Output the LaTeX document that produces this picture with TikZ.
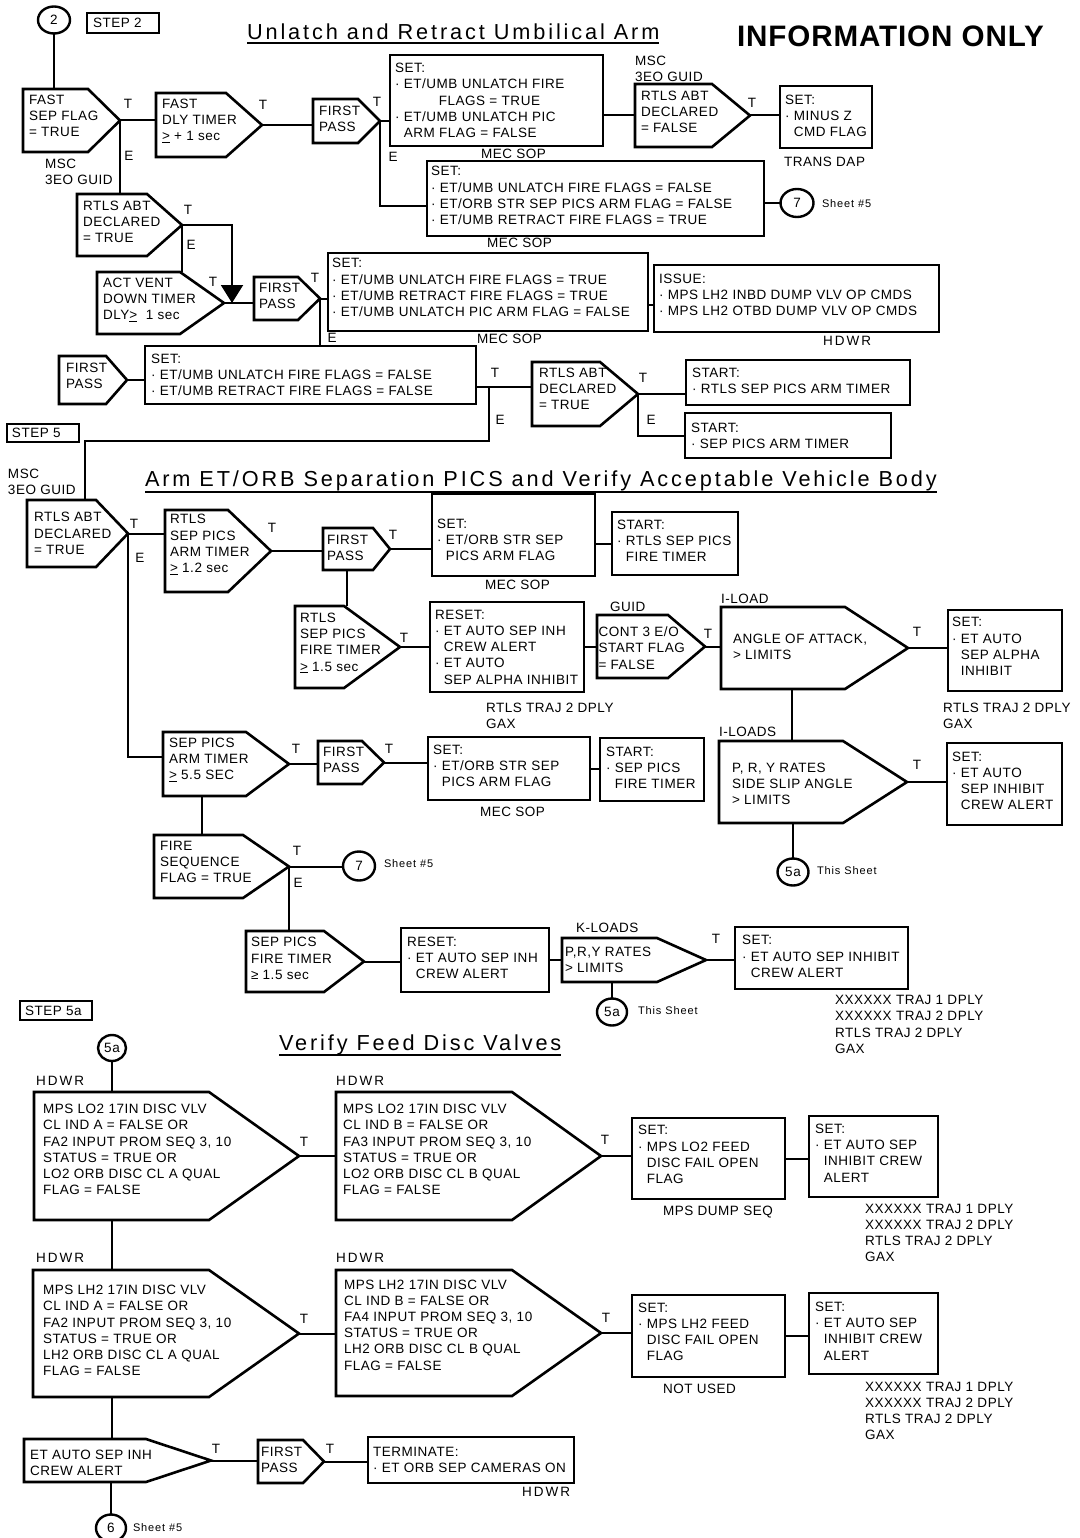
\documentclass[tikz,border=0pt]{standalone}
\usepackage{fontspec}
\setmainfont{Liberation Sans}
\usetikzlibrary{shapes.geometric,arrows.meta}
\newfontfamily\mainf{Liberation Sans}[LetterSpace=4]
\newfontfamily\titlef{Liberation Sans}[LetterSpace=13.3]
\newfontfamily\infof{Liberation Sans}[LetterSpace=3]
\newfontfamily\smallf{Liberation Sans}[LetterSpace=8]
\newfontfamily\hdwrf{Liberation Sans}[LetterSpace=15]
\newcommand\fmain{\mainf\fontsize{13.5}{16.2}\selectfont}
\newcommand\ftitle{\titlef\fontsize{21.7}{25}\selectfont}
\newcommand\finfo{\infof\bfseries\fontsize{29.6}{33}\selectfont}
\newcommand\fsmall{\smallf\fontsize{11}{13}\selectfont}
\newcommand\fhdwr{\hdwrf\fontsize{13.5}{16}\selectfont}
\newcommand\ind{\hphantom{·\ }}
\tikzset{
  every node/.style={inner sep=0pt, outer sep=0pt, font=\fmain},
  frm/.style={line width=2.6pt, line join=miter},
  ln/.style={line width=2pt},
  bxn/.style={draw, line width=2.6pt, anchor=north west},
  pnn/.style={anchor=north west},
  txt/.style={anchor=west, align=left},
  lab/.style={anchor=west},
  cir/.style={draw, ellipse, line width=2.4pt},
}
% box: name l t r b pad yshift text
\newcommand\bx[8]{%
  \pgfmathsetmacro\bW{#4-#2}\pgfmathsetmacro\bH{#5-#3}%
  \node[bxn, minimum width=\bW pt, minimum height=\bH pt] (#1) at (#2,#3) {};
  \node[txt, yshift=#7pt] (#1-t) at ([xshift=#6pt]#1.west) {#8};}
% pentagon: name l t r b shoulder pad yshift text
\newcommand\pent[9]{%
  \pgfmathsetmacro\bW{#4-#2}\pgfmathsetmacro\bH{#5-#3}%
  \node[pnn, minimum width=\bW pt, minimum height=\bH pt] (#1) at (#2,#3) {};
  \draw[frm] (#2,#3) -- (#6,#3) -- (#1.east) -- (#6,#5) -- (#2,#5) -- cycle;
  \node[txt, yshift=#8pt] (#1-t) at ([xshift=#7pt]#1.west) {#9};}
\begin{document}
\begin{tikzpicture}[x=1pt,y=-1pt]
\useasboundingbox (0,0) rectangle (1079,1538);
\fill[white] (0,0) rectangle (1079,1538);

% ---------- header ----------
\node[cir, minimum width=32pt, minimum height=27pt] (c2) at (54,20) {2};
\bx{step2}{87}{13}{159}{33}{6}{0}{STEP 2}
\node[anchor=base west, font=\ftitle] (t1) at (247,40) {Unlatch and Retract Umbilical Arm};
\draw[line width=1.3pt] ([yshift=-3pt]t1.base west) -- ([yshift=-3pt]t1.base east);
\node[anchor=base west, font=\finfo] (info) at (737,47) {INFORMATION ONLY};

% ---------- step 2 ----------
\pent{fs}{23}{89}{120}{152}{88}{6}{4.5}{FAST\\SEP FLAG\\= TRUE}
\node[txt] (l1) at (45,172) {MSC\\3EO GUID};
\pent{fd}{156}{93}{262}{157}{226}{6}{4}{FAST\\DLY TIMER\\\underline{>} + 1 sec}
\pent{fp1}{313}{99}{380}{143}{358}{6}{2.5}{FIRST\\PASS}
\bx{set1}{390}{55}{603}{146}{5}{0}{SET:\\· ET/UMB UNLATCH FIRE\\\ind\hspace*{35pt}FLAGS = TRUE\\· ET/UMB UNLATCH PIC\\\ind ARM FLAG = FALSE}
\node[lab] (l2) at (481,154) {MEC SOP};
\pent{rf}{635}{84}{750}{147}{712}{6}{3.5}{RTLS ABT\\DECLARED\\= FALSE}
\node[txt] (l3) at (635,69) {MSC\\3EO GUID};
\bx{mz}{780}{86}{872}{148}{5}{1}{SET:\\· MINUS Z\\\ind CMD FLAG}
\node[lab] (l4) at (784,162) {TRANS DAP};
\bx{set2}{427}{161}{764}{236}{4}{3}{SET:\\· ET/UMB UNLATCH FIRE FLAGS = FALSE\\· ET/ORB STR SEP PICS ARM FLAG = FALSE\\· ET/UMB RETRACT FIRE FLAGS = TRUE}
\node[lab] (l5) at (487,243) {MEC SOP};
\node[cir, minimum width=33pt, minimum height=28pt] (c7a) at (797,203) {7};
\node[lab, font=\fsmall] (l6) at (822,204) {Sheet \#5};

\pent{ra1}{77}{194}{182}{256}{147}{6}{3}{RTLS ABT\\DECLARED\\= TRUE}
\pent{av}{97}{272}{224}{334}{180}{6}{3.5}{ACT VENT\\DOWN TIMER\\DLY\underline{>}\ \ 1 sec}
\coordinate (ja) at ([xshift=8pt]av.east);
\pent{fp2}{254}{277}{320}{320}{298}{5}{2.5}{FIRST\\PASS}
\bx{set3}{328}{253}{648}{331}{4}{4.5}{SET:\\· ET/UMB UNLATCH FIRE FLAGS = TRUE\\· ET/UMB RETRACT FIRE FLAGS = TRUE\\· ET/UMB UNLATCH PIC ARM FLAG = FALSE}
\node[lab] (l7) at (477,339) {MEC SOP};
\bx{iss}{654}{265}{939}{332}{5}{3.5}{ISSUE:\\· MPS LH2 INBD DUMP VLV OP CMDS\\· MPS LH2 OTBD DUMP VLV OP CMDS}
\node[lab, font=\fhdwr] (l8) at (823,341) {HDWR};

\pent{fp3}{59}{356}{127}{404}{106}{7}{4}{FIRST\\PASS}
\bx{set4}{145}{346}{476}{404}{6}{0}{SET:\\· ET/UMB UNLATCH FIRE FLAGS = FALSE\\· ET/UMB RETRACT FIRE FLAGS = FALSE}
\coordinate (jb) at ([xshift=13pt,yshift=-12pt]set4.east);
\pent{ra2}{532}{362}{638}{426}{600}{7}{5}{RTLS ABT\\DECLARED\\= TRUE}
\bx{st1}{686}{360}{910}{405}{6}{1.5}{START:\\· RTLS SEP PICS ARM TIMER}
\bx{st2}{685}{413}{891}{458}{6}{0}{START:\\· SEP PICS ARM TIMER}

% ---------- step 5 ----------
\bx{step5}{7}{424}{79}{442}{5}{0}{STEP 5}
\node[txt] (l9) at (8,482) {MSC\\3EO GUID};
\node[anchor=base west, font=\ftitle] (t2) at (145,486) {Arm ET/ORB Separation PICS and Verify Acceptable Vehicle Body};
\draw[line width=1.3pt] ([yshift=-6pt]t2.base west) -- ([yshift=-6pt]t2.base east);

\pent{ra3}{27}{500}{128}{567}{96}{7}{0}{RTLS ABT\\DECLARED\\= TRUE}
\pent{rt1}{165}{510}{271}{592}{228}{5}{6.5}{RTLS\\SEP PICS\\ARM TIMER\\\underline{>} 1.2 sec}
\pent{fp4}{323}{528}{390}{570}{373}{4}{1}{FIRST\\PASS}
\bx{set5}{432}{494}{595}{576}{5}{-5}{SET:\\· ET/ORB STR SEP\\\ind PICS ARM FLAG}
\node[lab] (l10) at (485,585) {MEC SOP};
\bx{st3}{612}{512}{738}{575}{5}{2.5}{START:\\· RTLS SEP PICS\\\ind FIRE TIMER}
\pent{rf2}{295}{606}{400}{688}{344}{5}{4}{RTLS\\SEP PICS\\FIRE TIMER\\\underline{>} 1.5 sec}
\bx{rs1}{430}{602}{584}{692}{5}{0}{RESET:\\· ET AUTO SEP INH\\\ind CREW ALERT\\· ET AUTO\\\ind SEP ALPHA INHIBIT}
\node[txt] (l11) at (486,716) {RTLS TRAJ 2 DPLY\\GAX};
\node[lab] (l12) at (610,607) {GUID};
\pent{ct}{597}{615}{705}{678}{668}{1.5}{-1.5}{CONT 3 E/O\\START FLAG\\= FALSE}
\node[lab] (l13) at (721,599) {I-LOAD};
\pent{aa}{721}{607}{908}{689}{845}{12}{1.5}{ANGLE OF ATTACK,\\> LIMITS}
\bx{s6}{948}{610}{1062}{691}{4}{4}{SET:\\· ET AUTO\\\ind SEP ALPHA\\\ind INHIBIT}
\node[txt] (l14) at (943,716) {RTLS TRAJ 2 DPLY\\GAX};
\node[lab] (l15) at (719,732) {I-LOADS};
\pent{pr}{719}{741}{907}{823}{843}{13}{-2}{P, R, Y RATES\\SIDE SLIP ANGLE\\> LIMITS}
\bx{s7}{947}{743}{1062}{825}{5}{3}{SET:\\· ET AUTO\\\ind SEP INHIBIT\\\ind CREW ALERT}
\node[cir, minimum width=31pt, minimum height=27pt] (c5a1) at (793,872) {5a};
\node[lab, font=\fsmall] (l16) at (817,871) {This Sheet};

\pent{sp1}{163}{732}{289}{796}{246}{6}{4}{SEP PICS\\ARM TIMER\\\underline{>} 5.5 SEC}
\pent{fp5}{318}{741}{384}{784}{362}{5}{2.5}{FIRST\\PASS}
\bx{s8}{428}{737}{590}{800}{5}{2.5}{SET:\\· ET/ORB STR SEP\\\ind PICS ARM FLAG}
\node[lab] (l17) at (480,812) {MEC SOP};
\bx{st4}{600}{738}{704}{801}{6}{1.5}{START:\\· SEP PICS\\\ind FIRE TIMER}
\pent{fsq}{154}{835}{289}{898}{243}{6}{4.5}{FIRE\\SEQUENCE\\FLAG = TRUE}
\node[cir, minimum width=32pt, minimum height=29pt] (c7b) at (359,866) {7};
\node[lab, font=\fsmall] (l18) at (384,864) {Sheet \#5};
\pent{sf}{246}{931}{364}{992}{324}{5}{3}{SEP PICS\\FIRE TIMER\\≥ 1.5 sec}
\bx{rs2}{401}{928}{549}{992}{6}{2}{RESET:\\· ET AUTO SEP INH\\\ind CREW ALERT}
\node[lab] (l19) at (576,928) {K-LOADS};
\pent{kp}{562}{938}{706}{982}{657}{3}{0}{P,R,Y RATES\\> LIMITS}
\bx{s9}{735}{927}{908}{989}{7}{1.5}{SET:\\· ET AUTO SEP INHIBIT\\\ind CREW ALERT}
\node[txt] (l20) at (835,1024.5) {XXXXXX TRAJ 1 DPLY\\XXXXXX TRAJ 2 DPLY\\RTLS TRAJ 2 DPLY\\GAX};
\node[cir, minimum width=30pt, minimum height=27pt] (c5a2) at (612,1012) {5a};
\node[lab, font=\fsmall] (l21) at (638,1011) {This Sheet};

% ---------- step 5a ----------
\bx{step5a}{20}{1001}{92}{1020}{5}{0}{STEP 5a}
\node[anchor=base west, font=\ftitle] (t3) at (279,1050) {Verify Feed Disc Valves};
\draw[line width=1.3pt] ([yshift=-5pt]t3.base west) -- ([yshift=-5pt]t3.base east);
\node[cir, minimum width=28pt, minimum height=26pt] (c5a3) at (112,1048) {5a};
\node[lab, font=\fhdwr] (l22) at (36,1081) {HDWR};
\node[lab, font=\fhdwr] (l23) at (336,1081) {HDWR};
\pent{lo2a}{34}{1092}{299}{1220}{209}{9}{6.5}{MPS LO2 17IN DISC VLV\\CL IND A = FALSE OR\\FA2 INPUT PROM SEQ 3, 10\\STATUS = TRUE OR\\LO2 ORB DISC CL A QUAL\\FLAG = FALSE}
\pent{lo2b}{336}{1092}{601}{1220}{512}{7}{6.5}{MPS LO2 17IN DISC VLV\\CL IND B = FALSE OR\\FA3 INPUT PROM SEQ 3, 10\\STATUS = TRUE OR\\LO2 ORB DISC CL B QUAL\\FLAG = FALSE}
\bx{sl}{632}{1118}{785}{1199}{6}{4}{SET:\\· MPS LO2 FEED\\\ind DISC FAIL OPEN\\\ind FLAG}
\node[lab] (l24) at (663,1212) {MPS DUMP SEQ};
\bx{sa1}{809}{1116}{938}{1197}{6}{3.5}{SET:\\· ET AUTO SEP\\\ind INHIBIT CREW\\\ind ALERT}
\node[txt] (l25) at (865,1233) {XXXXXX TRAJ 1 DPLY\\XXXXXX TRAJ 2 DPLY\\RTLS TRAJ 2 DPLY\\GAX};
\node[lab, font=\fhdwr] (l26) at (36,1258) {HDWR};
\node[lab, font=\fhdwr] (l27) at (336,1258) {HDWR};
\pent{lh2a}{33}{1270}{299}{1397}{209}{10}{3}{MPS LH2 17IN DISC VLV\\CL IND A = FALSE OR\\FA2 INPUT PROM SEQ 3, 10\\STATUS = TRUE OR\\LH2 ORB DISC CL A QUAL\\FLAG = FALSE}
\pent{lh2b}{336}{1270}{601}{1396}{512}{8}{8}{MPS LH2 17IN DISC VLV\\CL IND B = FALSE OR\\FA4 INPUT PROM SEQ 3, 10\\STATUS = TRUE OR\\LH2 ORB DISC CL B QUAL\\FLAG = FALSE}
\bx{sl2}{632}{1295}{785}{1377}{6}{4}{SET:\\· MPS LH2 FEED\\\ind DISC FAIL OPEN\\\ind FLAG}
\node[lab] (l28) at (663,1389) {NOT USED};
\bx{sa2}{809}{1293}{938}{1374}{6}{2.5}{SET:\\· ET AUTO SEP\\\ind INHIBIT CREW\\\ind ALERT}
\node[txt] (l29) at (865,1411) {XXXXXX TRAJ 1 DPLY\\XXXXXX TRAJ 2 DPLY\\RTLS TRAJ 2 DPLY\\GAX};
\pent{ea}{24}{1439}{211}{1482}{146}{6}{-2.5}{ET AUTO SEP INH\\CREW ALERT}
\pent{fp6}{258}{1440}{324}{1483}{303}{3}{2}{FIRST\\PASS}
\bx{term}{368}{1437}{574}{1483}{5}{0}{TERMINATE:\\· ET ORB SEP CAMERAS ON}
\node[lab, font=\fhdwr] (l30) at (522,1492) {HDWR};
\node[cir, minimum width=30pt, minimum height=27pt] (c6) at (111,1528) {6};
\node[lab, font=\fsmall] (l31) at (133,1528) {Sheet \#5};

% ---------- T / E labels ----------
\node (T1) at (128,104) {T};
\node (E1) at (129,156) {E};
\node (T2) at (263,105) {T};
\node (T3) at (377,102) {T};
\node (E2) at (393,157) {E};
\node (T4) at (752,103) {T};
\node (T5) at (188,210) {T};
\node (E3) at (191,245) {E};
\node (T6) at (213,282) {T};
\node (T7) at (315,278) {T};
\node (E4) at (332,338) {E};
\node (T8) at (495,373) {T};
\node (E5) at (500,420) {E};
\node (T9) at (643,378) {T};
\node (E6) at (651,420) {E};
\node (T10) at (134,524) {T};
\node (E7) at (140,558) {E};
\node (T11) at (272,528) {T};
\node (T12) at (393,535) {T};
\node (T13) at (404,638) {T};
\node (T14) at (708,634) {T};
\node (T15) at (917,632) {T};
\node (T16) at (917,765) {T};
\node (T17) at (296,749) {T};
\node (T18) at (389,749) {T};
\node (T19) at (297,851) {T};
\node (E8) at (298,883) {E};
\node (T20) at (716,939) {T};
\node (T21) at (304,1142) {T};
\node (T22) at (605,1140) {T};
\node (T23) at (304,1319) {T};
\node (T24) at (606,1318) {T};
\node (T25) at (216,1449) {T};
\node (T26) at (330,1449) {T};

% ---------- connectors ----------
\begin{scope}[ln]
\draw (c2.south) -- (c2.south |- fs.north);
\draw (fs.east) -- (fs.east -| fd.west);
\draw (fs.east) -- (fs.east |- ra1.north);
\draw (fd.east) -- (fd.east -| fp1.west);
\draw (fp1.east) -- (fp1.east -| set1.west);
\draw (fp1.east) |- ([yshift=-8pt]set2.west);
\draw (rf.west -| set1.east) -- (rf.west);
\draw (rf.east) -- (rf.east -| mz.west);
\draw (c7a.west -| set2.east) -- (c7a.west);
\draw (ra1.east) -- (ra1.east |- av.north);
\draw[-{Triangle[width=22pt,length=18pt]}] (ra1.east) -| (ja);
\draw (av.east) -- (av.east -| fp2.west);
\draw (fp2.east) -- (fp2.east -| set3.west);
\draw (fp2.east) -- (fp2.east |- set4.north);
\draw ([yshift=-6pt]iss.west -| set3.east) -- ([yshift=-6pt]iss.west);
\draw (fp3.east) -- (fp3.east -| set4.west);
\draw ([yshift=-12pt]set4.east) -- (jb -| ra2.west);
\draw (jb) |- ([xshift=7.5pt,yshift=59pt]ra3.north) -- ([xshift=7.5pt]ra3.north);
\draw (ra2.east) -- (ra2.east -| st1.west);
\draw (ra2.east) |- (st2.west);
\draw (ra3.east) -- (ra3.east -| rt1.west);
\draw (ra3.east) |- ([yshift=7pt]sp1.west);
\draw (rt1.east) -- (rt1.east -| fp4.west);
\draw (fp4.east) -- (fp4.east -| set5.west);
\draw (st3.west -| set5.east) -- (st3.west);
\draw ([xshift=-9.5pt]fp4.south) -- ([xshift=-9.5pt]fp4.south |- rf2.north);
\draw (rf2.east) -- (rf2.east -| rs1.west);
\draw (ct.west -| rs1.east) -- (ct.west);
\draw (ct.east) -- (ct.east -| aa.west);
\draw (aa.east) -- (aa.east -| s6.west);
\draw ([xshift=-22.5pt]aa.south) -- ([xshift=-22.5pt]aa.south |- pr.north);
\draw (pr.east) -- (pr.east -| s7.west);
\draw (c5a1.north |- pr.south) -- (c5a1.north);
\draw (sp1.east) -- (sp1.east -| fp5.west);
\draw (fp5.east) -- (fp5.east -| s8.west);
\draw (s8.east) -- (s8.east -| st4.west);
\draw ([xshift=-24pt]sp1.south) -- ([xshift=-24pt]sp1.south |- fsq.north);
\draw (fsq.east) -- (fsq.east -| c7b.west);
\draw (fsq.east) -- (fsq.east |- sf.north);
\draw (sf.east) -- (sf.east -| rs2.west);
\draw (rs2.east) -- (rs2.east -| kp.west);
\draw (kp.east) -- (kp.east -| s9.west);
\draw (c5a2.north |- kp.south) -- (c5a2.north);
\draw (c5a3.south) -- (c5a3.south |- lo2a.north);
\draw (lo2a.east) -- (lo2a.east -| lo2b.west);
\draw (lo2b.east) -- (lo2b.east -| sl.west);
\draw (sl.east) -- (sl.east -| sa1.west);
\draw (c5a3.south |- lo2a.south) -- (c5a3.south |- lh2a.north);
\draw (lh2a.east) -- (lh2a.east -| lh2b.west);
\draw (lh2b.east) -- (lh2b.east -| sl2.west);
\draw (sl2.east) -- (sl2.east -| sa2.west);
\draw (c5a3.south |- lh2a.south) -- (c5a3.south |- ea.north);
\draw (ea.east) -- (ea.east -| fp6.west);
\draw (fp6.east) -- (fp6.east -| term.west);
\draw (c6.north |- ea.south) -- (c6.north);
\end{scope}
\end{tikzpicture}
\end{document}
